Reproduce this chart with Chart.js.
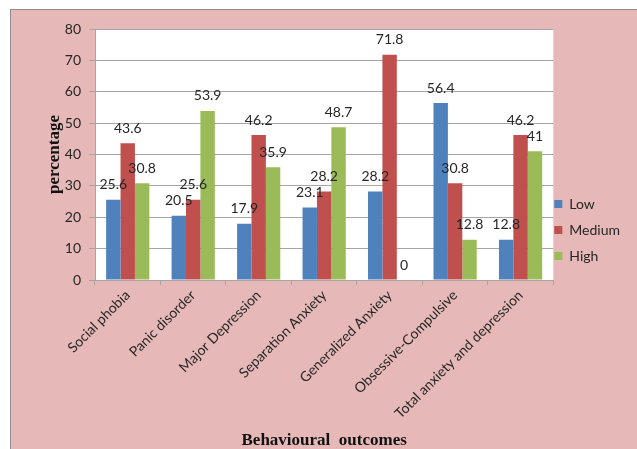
<!DOCTYPE html>
<html lang="en">
<head>
<meta charset="UTF-8">
<title>Behavioural outcomes</title>
<script src="https://cdn.jsdelivr.net/npm/chart.js"></script>
<style>
  html, body { margin: 0; padding: 0; background: #fff; overflow: hidden; }
  #frame {
    position: absolute; left: 10px; top: 9px;
    width: 640px; height: 460px;
    background: #e6b9b8;
    border-top: 1px solid #8c8c8c;
    border-left: 1px solid #8c8c8c;
  }
  #chart { position: absolute; left: 0; top: 0; }
</style>
</head>
<body>
<div id="frame"><canvas id="chart" width="626" height="439"></canvas></div>
<script>
// categories and series (percentages)
const outcomes = ['Social phobia', 'Panic disorder', 'Major Depression', 'Separation Anxiety',
                  'Generalized Anxiety', 'Obsessive-Compulsive', 'Total anxiety and depression'];
const lowValues    = [25.6, 20.5, 17.9, 23.1, 28.2, 56.4, 12.8];
const mediumValues = [43.6, 25.6, 46.2, 28.2, 71.8, 30.8, 46.2];
const highValues   = [30.8, 53.9, 35.9, 48.7, 0, 12.8, 41];
const yTicks = [0, 10, 20, 30, 40, 50, 60, 70, 80];

const textColor = '#262626';
const gridColor = '#a6a6a6';
const labelFont = { family: 'Lato, "Liberation Sans", sans-serif', size: 14 };

// writes each bar's value just above it
const valueLabels = {
  id: 'valueLabels',
  afterDatasetsDraw(chart) {
    const ctx = chart.ctx;
    ctx.save();
    ctx.font = '14px Lato, "Liberation Sans", sans-serif';
    ctx.fillStyle = textColor;
    ctx.textAlign = 'center';
    ctx.textBaseline = 'middle';
    chart.data.datasets.forEach((ds, i) => {
      chart.getDatasetMeta(i).data.forEach((bar, j) => {
        ctx.fillText(String(ds.data[j]), bar.x, bar.y - 15);
      });
    });
    ctx.restore();
  }
};

new Chart(document.getElementById('chart'), {
  type: 'bar',
  data: {
    labels: outcomes,
    datasets: [
      { label: 'Low',    data: lowValues,    backgroundColor: '#4f81bd' },
      { label: 'Medium', data: mediumValues, backgroundColor: '#c0504d' },
      { label: 'High',   data: highValues,   backgroundColor: '#9bbb59' }
    ]
  },
  options: {
    responsive: false,
    animation: false,
    categoryPercentage: 0.66,
    barPercentage: 1,
    layout: { padding: { top: 19, right: -4, bottom: 18, left: 0 } },
    plugins: {
      legend: {
        position: 'right',
        labels: {
          boxWidth: 8, boxHeight: 8, padding: 12,
          color: textColor, font: labelFont
        }
      },
      tooltip: { enabled: false }
    },
    scales: {
      x: {
        grid: { display: true, drawOnChartArea: false, offset: true, tickLength: 5, color: gridColor },
        border: { color: gridColor },
        ticks: { color: textColor, font: labelFont, minRotation: 45, maxRotation: 45, padding: 2 },
        title: {
          display: true, text: 'Behavioural  outcomes', color: '#111',
          font: { family: '"Liberation Serif", serif', size: 17, weight: 'bold', lineHeight: 1 },
          padding: { top: 0, bottom: -18 }
        },
        afterFit(scale) { scale.height = 151; }
      },
      y: {
        min: 0, max: 80,
        afterBuildTicks(scale) { scale.ticks = yTicks.map(v => ({ value: v })); },
        grid: { color: gridColor, tickLength: 6 },
        border: { color: gridColor },
        ticks: { color: textColor, font: labelFont, padding: 8 },
        title: {
          display: true, text: 'percentage', color: '#111',
          font: { family: '"Liberation Serif", serif', size: 17, weight: 'bold', lineHeight: 1.2 },
          padding: { top: 33, bottom: 0 }
        },
        afterFit(scale) { scale.width = 84; }
      }
    }
  },
  plugins: [
    { id: 'plotBg', beforeDraw(chart) {
        const a = chart.chartArea;
        chart.ctx.save();
        chart.ctx.fillStyle = '#ffffff';
        chart.ctx.fillRect(a.left, a.top, a.right - a.left, a.bottom - a.top);
        chart.ctx.restore();
    } },
    // pull the legend a little closer to the plot
    { id: 'legendNudge', afterLayout(chart) {
        chart.legend.left -= 11;
        chart.legend.right -= 11;
    } },
    valueLabels
  ]
});
</script>
</body>
</html>
